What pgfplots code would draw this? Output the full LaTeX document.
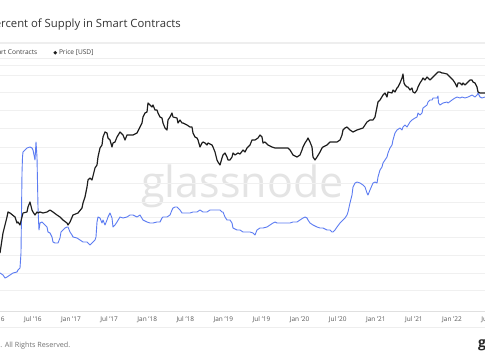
\documentclass[border=0pt]{standalone}
\usepackage{fontspec}
\setmainfont{Open Sans}
\usepackage{pgfplots}
\pgfplotsset{compat=1.18}
\definecolor{gnblue}{RGB}{92,124,242}
\definecolor{gnblack}{RGB}{30,30,30}
\definecolor{gridc}{RGB}{238,238,238}
\definecolor{wm}{RGB}{228,228,228}
\begin{document}
\begin{tikzpicture}[x=1pt,y=1pt]
\path[use as bounding box] (0,0) rectangle (485,360);
\clip (0,0) rectangle (485,360);
\fill[white] (0,0) rectangle (485,360);
% title
\node[anchor=base east, inner sep=0, text=black!80, font=\fontsize{11.3}{13}\selectfont] at (181,333) {Percent of Supply in Smart Contracts};
% legend
\draw[gridc, line width=1.5pt] (0,317) -- (485,317);
\draw[gridc, line width=0.6pt] (0,302) -- (485,302);
\node[anchor=base east, inner sep=0, text=black!75, font=\fontsize{6.6}{7}\selectfont] at (37.5,305.5) {Percent in Smart Contracts};
\fill[gnblack] (55.3,307.3) circle (1.9);
\node[anchor=base west, inner sep=0, text=black!75, font=\fontsize{6.6}{7}\selectfont] at (58.8,305.5) {Price [USD]};
% watermark
\node[anchor=base, inner sep=0, text=wm, font=\fontsize{43}{50}\selectfont] at (242.5,163) {glassnode};
\begin{axis}[
  at={(-20,49)}, anchor=south west,
  scale only axis, width=525pt, height=249pt,
  xmin=-20, xmax=505, ymin=49, ymax=298,
  axis line style={draw=none},
  xtick={-5.2,32.9,71,109.1,147.2,185.3,223.4,261.5,299.6,337.7,375.8,413.9,452,490.1},
  xticklabels={Jan '16,Jul '16,Jan '17,Jul '17,Jan '18,Jul '18,Jan '19,Jul '19,Jan '20,Jul '20,Jan '21,Jul '21,Jan '22,Jul '22},
  xticklabel style={font=\fontsize{6.5}{7}\selectfont, text=black!65, anchor=base, yshift=-10.5pt, inner sep=0pt},
  major tick length=0pt,
  ytick={295,285,268,250,232,213,197,177,158,143,123,105,87,70},
  yticklabels={},
  ymajorgrids, grid style={draw=black!6, line width=0.5pt},
  clip=true,
]
\addplot[gnblue, line width=0.9pt, line join=round] coordinates {
(0,87) (3,85) (5,82) (7,83) (10,85) (13,87) (17,88) (18,90) (20,92) (21,107) (22,187) (22.5,203) (23,208) (27,212) (30,213) (32,212) (33,210) (35,200) (36,218) (37,203) (38,153) (38.5,140) (39,130) (40,137) (42,138) (43,137) (45,135) (47,133) (48,128) (50,127) (52,123) (53,118) (55,117) (57,117) (58,117) (60,122) (61,128) (63,130) (65,132) (67,133) (68,133) (70,128) (72,125) (73,123) (77,122) (80,120) (83,118) (87,118) (88,117) (90,115) (92,117) (93,118) (95,120) (96,123) (97,138) (98,143) (100,142) (102,137) (103,140) (105,135) (107,140) (108,143) (110,147) (112,142) (113,133) (115,135) (117,138) (120,143) (123,142) (127,143) (130,145) (133,145) (137,143) (140,145) (143,140) (147,138) (150,137) (153,137) (157,138) (160,138) (162,142) (163,143) (167,143) (170,145) (172,150) (173,152) (175,153) (177,153) (178,152) (180,150) (182,147) (183,147) (187,147) (190,147) (193,148) (197,148) (200,150) (203,148) (207,148) (210,150) (213,150) (217,150) (220,150) (222,148) (223,148) (225,143) (227,140) (230,140) (232,137) (233,132) (237,130) (240,130) (243,128) (247,128) (250,128) (253,127) (255,125) (257,130) (260,132) (263,132) (267,133) (270,135) (273,137) (275,138) (277,137) (280,137) (283,137) (287,137) (290,137) (293,138) (297,138) (300,140) (303,142) (305,143) (307,142) (308,140) (310,137) (313,135) (317,133) (320,132) (323,132) (327,130) (330,130) (332,128) (333,128) (335,130) (337,133) (340,137) (343,140) (345,142) (347,145) (348,148) (350,157) (352,165) (353,173) (355,177) (357,178) (360,177) (363,175) (365,173) (367,167) (368,165) (370,170) (373,177) (375,178) (377,177) (378,183) (380,190) (382,193) (383,197) (385,200) (387,203) (388,207) (390,212) (392,215) (393,220) (395,227) (397,230) (400,232) (402,230) (403,233) (405,235) (407,233) (410,238) (412,240) (415,242) (417,243) (418,247) (420,245) (422,247) (423,252) (427,255) (428,258) (430,260) (432,260) (433,262) (435,262) (437,262) (438,264) (438.5,257) (440,255) (443,257) (447,258) (448,257) (452,260) (455,262) (457,263) (460,262) (462,263) (465,262) (468,263) (472,265) (475,263) (477,265) (478,267) (480,263) (482,262) (485,263)
};
\addplot[gnblack, line width=1.2pt, line join=round] coordinates {
(0,107) (3,127) (7,143) (8,148) (10,147) (15,143) (17,137) (18,138) (20,135) (23,147) (27,148) (28,153) (30,158) (32,150) (33,148) (35,145) (37,148) (38,147) (40,148) (43,147) (47,148) (50,150) (53,148) (57,145) (60,143) (63,140) (67,137) (68,135) (70,138) (73,145) (78,147) (82,152) (83,157) (85,163) (87,173) (88,180) (90,182) (92,180) (95,192) (97,195) (98,203) (100,212) (102,215) (103,223) (105,228) (107,227) (108,222) (110,220) (112,213) (113,217) (115,218) (117,223) (120,228) (123,225) (125,220) (127,225) (130,225) (133,225) (137,227) (140,233) (142,237) (143,243) (145,247) (147,248) (148,257) (150,255) (152,253) (153,255) (155,250) (157,250) (158,247) (160,243) (162,242) (163,237) (165,232) (167,230) (168,240) (170,243) (172,247) (173,243) (177,242) (178,237) (180,240) (182,237) (183,237) (187,235) (190,233) (192,233) (193,227) (195,223) (197,222) (198,220) (200,213) (202,217) (203,218) (205,217) (207,215) (208,217) (212,215) (213,213) (215,208) (217,200) (218,198) (220,195) (222,202) (223,205) (225,207) (227,203) (228,200) (230,200) (232,203) (233,207) (235,205) (238,207) (240,206) (243,210) (245,208) (247,212) (250,215) (252,220) (255,220) (258,222) (260,225) (262,223) (263,217) (265,218) (268,215) (272,213) (275,212) (278,212) (282,212) (285,212) (288,212) (290,210) (293,205) (297,203) (300,205) (302,210) (303,213) (305,217) (307,220) (308,222) (310,218) (312,213) (313,203) (315,200) (317,203) (320,208) (322,212) (323,213) (327,215) (330,218) (333,218) (337,218) (340,220) (342,225) (343,230) (345,232) (347,233) (348,232) (350,230) (353,228) (357,230) (360,231) (363,232) (367,238) (370,240) (373,240) (375,243) (377,253) (378,258) (380,260) (383,265) (385,267) (387,263) (388,268) (392,267) (393,270) (395,268) (397,272) (398,273) (400,277) (402,282) (403,286) (404,277) (405,275) (407,273) (408,273) (410,270) (412,272) (413,268) (415,267) (417,270) (418,273) (420,277) (422,280) (423,282) (425,280) (427,283) (428,282) (430,280) (432,282) (433,283) (435,285) (437,287) (438,288) (440,288) (442,287) (443,287) (447,286) (448,285) (450,283) (453,280) (455,277) (457,273) (458,277) (460,277) (462,275) (463,277) (465,275) (467,277) (468,278) (470,280) (472,280) (473,278) (475,277) (477,273) (478,268) (480,267) (483,267) (485,267)
};
\end{axis}
% axis lines
\draw[black!12, line width=0.6pt] (0,49) -- (485,49);
\draw[gridc, line width=0.6pt] (0,33) -- (485,33);
% footer
\node[anchor=base east, inner sep=0, text=black!55, font=\fontsize{7.2}{8}\selectfont] at (70.5,13) {\textcopyright\ 2022 Glassnode. All Rights Reserved.};
\node[anchor=base west, inner sep=0, text=black!85, font=\fontsize{14}{15}\selectfont\bfseries] at (478,13) {g};
\end{tikzpicture}
\end{document}
